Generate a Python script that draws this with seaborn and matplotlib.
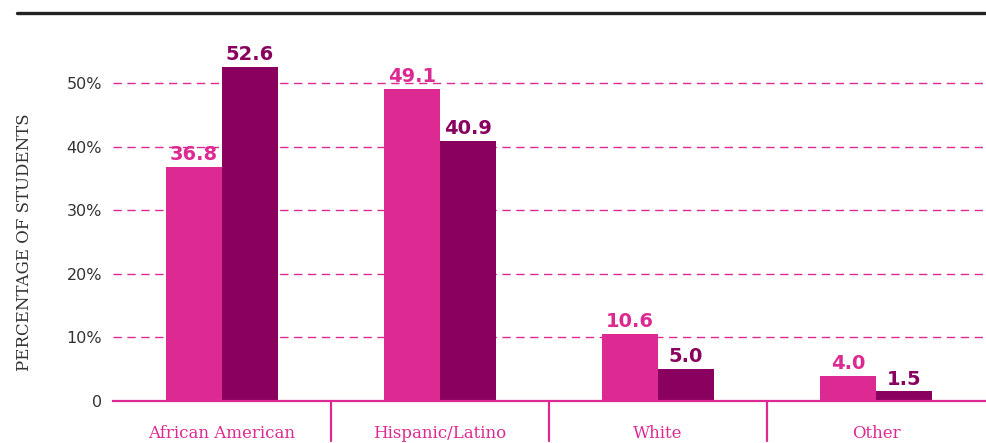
import pandas as pd
import matplotlib
matplotlib.use("Agg")
import matplotlib.pyplot as plt
import matplotlib.transforms as mtransforms
from matplotlib.lines import Line2D
import seaborn as sns

# Data
categories = ['African American', 'Hispanic/Latino', 'White', 'Other']
series_names = ['Group A', 'Group B']
values_a = [36.8, 49.1, 10.6, 4.0]
values_b = [52.6, 40.9, 5.0, 1.5]
y_ticks = [0, 10, 20, 30, 40, 50]
y_tick_labels = ['0', '10%', '20%', '30%', '40%', '50%']

pink = '#DD2A93'
plum = '#8A005E'
grey = '#333333'

df = pd.DataFrame({
    'category': categories * 2,
    'series': [series_names[0]] * 4 + [series_names[1]] * 4,
    'value': values_a + values_b,
})

sns.set_theme(style='white')
plt.rcParams['font.family'] = ['DejaVu Sans']

fig = plt.figure(figsize=(9.87, 4.43), dpi=100)
ax = fig.add_axes([0.1145, 0.0948, 0.8835, 0.815])

sns.barplot(data=df, x='category', y='value', hue='series', order=categories,
            palette=[pink, plum], width=0.514, saturation=1, legend=False,
            linewidth=0, ax=ax)

ax.set_ylim(0, 56.8)
ax.set_xlim(-0.5, 3.5)
ax.set_yticks(y_ticks)
ax.set_yticklabels(y_tick_labels, fontsize=11.5, color=grey)
ax.tick_params(axis='y', length=0, pad=8)
ax.tick_params(axis='x', length=0, pad=17)
for lab in ax.get_xticklabels():
    lab.set_color(pink)
    lab.set_fontsize(12)
    lab.set_family('DejaVu Serif')

for y in y_ticks[1:]:
    ax.axhline(y, color=pink, lw=1, ls=(0, (6, 4)), zorder=0)

for s in ['top', 'right', 'left']:
    ax.spines[s].set_visible(False)
ax.spines['bottom'].set_color(pink)
ax.spines['bottom'].set_linewidth(1.6)

ax.set_xlabel('')
ax.set_ylabel('')
fig.text(25 / 987, 1 - 242 / 443, 'PERCENTAGE OF STUDENTS', rotation=90,
         ha='center', va='center', fontsize=12, color=grey, family='DejaVu Serif')

for cont, col in zip(ax.containers, [pink, plum]):
    ax.bar_label(cont, fmt='%.1f', color=col, fontsize=14, fontweight='bold', padding=2)

# separators between categories below the axis
trans = mtransforms.blended_transform_factory(ax.transData, ax.transAxes)
for xs in [0.5, 1.5, 2.5]:
    ax.add_line(Line2D([xs, xs], [0, -0.11], transform=trans, color=pink,
                       lw=1.6, clip_on=False))

# top rule
fig.add_artist(Line2D([0.0172, 0.998], [0.9707, 0.9707], transform=fig.transFigure,
                      color='#222222', lw=2.4))

fig.savefig('out.png', dpi=100)
